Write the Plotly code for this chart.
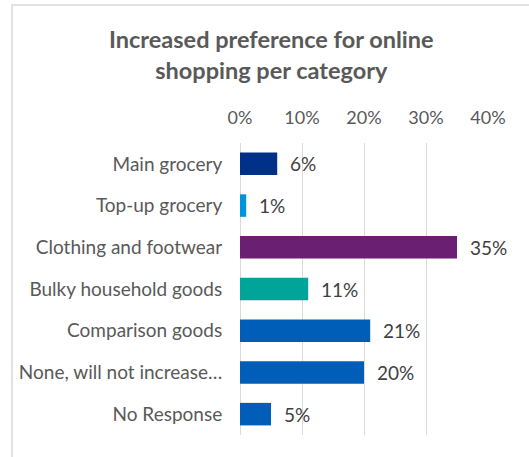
import plotly.graph_objects as go

# Survey results: share of respondents expecting to shop online more, by category
categories = [
    "Main grocery",
    "Top-up grocery",
    "Clothing and footwear",
    "Bulky household goods",
    "Comparison goods",
    "None, will not increase…",
    "No Response",
]
shares = [0.06, 0.01, 0.35, 0.11, 0.21, 0.20, 0.05]
bar_colors = ["#003087", "#0093DD", "#6B1F73", "#00A499", "#005EB8", "#005EB8", "#005EB8"]
tick_values = [0, 0.1, 0.2, 0.3, 0.4]

FONT = "Lato"
GREY = "#595959"

fig = go.Figure(
    go.Bar(
        x=shares,
        y=categories,
        orientation="h",
        marker=dict(color=bar_colors, line=dict(width=0)),
        width=0.54,
        hoverinfo="x+y",
    )
)

# value labels placed just past the end of each bar
value_labels = [
    dict(
        x=v, y=c, xref="x", yref="y",
        text=f"{v:.0%}",
        xanchor="left", yanchor="middle",
        xshift=11,
        showarrow=False,
        font=dict(family=FONT, size=19, color="#404040"),
    )
    for c, v in zip(categories, shares)
]

title = dict(
    text="<b>Increased preference for online<br>shopping per category</b>",
    xref="paper", yref="paper",
    x=(271.5 - 240) / 248, y=(435 - 54) / 292,
    xanchor="center", yanchor="middle",
    showarrow=False,
    font=dict(family=FONT, size=23.5, color=GREY),
)

fig.update_layout(
    width=529,
    height=457,
    margin=dict(l=240, r=41, t=143, b=22),
    paper_bgcolor="white",
    plot_bgcolor="white",
    showlegend=False,
    font=dict(family=FONT, color=GREY, size=19),
    annotations=[title] + value_labels,
    shapes=[
        dict(
            type="rect", xref="paper", yref="paper",
            x0=(12 - 240) / 248, x1=1.5,
            y0=-0.3, y1=(435 - 5) / 292,
            line=dict(color="#D9D9D9", width=1.5),
            fillcolor="rgba(0,0,0,0)",
            layer="below",
        )
    ],
)

fig.update_xaxes(
    side="top",
    range=[0, 0.4],
    tickvals=tick_values,
    tickformat=".0%",
    showgrid=True,
    gridcolor="#D9D9D9",
    gridwidth=1,
    zeroline=True,
    zerolinecolor="#D9D9D9",
    zerolinewidth=1,
    ticks="outside",
    ticklen=11,
    tickcolor="rgba(0,0,0,0)",
    showline=False,
    tickfont=dict(family=FONT, size=18, color=GREY),
)

fig.update_yaxes(
    autorange="reversed",
    ticks="outside",
    ticklen=13,
    tickcolor="rgba(0,0,0,0)",
    showline=False,
    showgrid=False,
    tickfont=dict(family=FONT, size=19, color=GREY),
)

fig.write_html("out.html")
